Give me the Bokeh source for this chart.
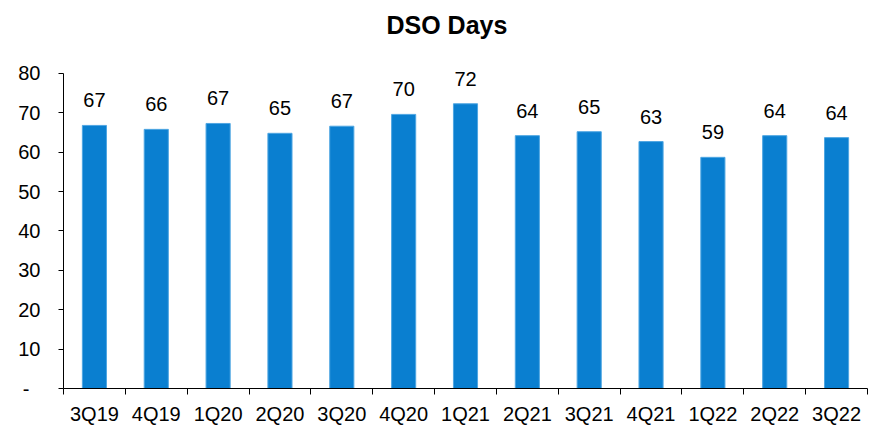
from bokeh.plotting import figure
from bokeh.models import ColumnDataSource, FixedTicker, Range1d, Label
from bokeh.core.properties import value
from bokeh.embed import file_html
from bokeh.resources import INLINE

quarters = ["3Q19", "4Q19", "1Q20", "2Q20", "3Q20", "4Q20", "1Q21",
            "2Q21", "3Q21", "4Q21", "1Q22", "2Q22", "3Q22"]
dso = [66.8, 65.8, 67.3, 64.8, 66.6, 69.6, 72.3, 64.2, 65.2, 62.7, 58.7, 64.2, 63.7]
labels = [f"{v:.0f}" for v in dso]
y_ticks = [0, 10, 20, 30, 40, 50, 60, 70, 80]
title_text = "DSO Days"

FONT = "Liberation Sans"
BAR = "#0A7FD0"

# layout (pixels)
W, H = 875, 427
TOP, BOTTOM = 5, 37
AXIS_TOP_PX = 73.3           # where the value 80 sits on the canvas
frame_h = H - TOP - BOTTOM
px_per_unit = (H - BOTTOM - AXIS_TOP_PX) / y_ticks[-1]
y_max = frame_h / px_per_unit

xs = [i + 0.5 for i in range(len(quarters))]
src = ColumnDataSource(dict(x=xs, top=dso, lab=labels))

p = figure(width=W, height=H, output_backend="svg", toolbar_location=None,
           x_range=Range1d(0, len(quarters)), y_range=Range1d(0, y_max),
           min_border_left=63, min_border_right=8, min_border_top=TOP,
           min_border_bottom=BOTTOM)
p.title.visible = False
p.outline_line_color = None
p.grid.visible = False
p.background_fill_color = "white"
p.border_fill_color = "white"

p.vbar(x="x", top="top", width=0.39, bottom=0, source=src,
       fill_color=BAR, line_color="#4FA6E2", line_width=1)
p.text(x="x", y="top", text="lab", source=src, text_align="center",
       text_baseline="bottom", y_offset=-18, text_font=value(FONT),
       text_font_size="20px", text_color="black")

# title as a label above the axis top
p.add_layout(Label(x=6.2, y=y_ticks[-1], x_units="data", y_units="data", text=title_text,
                   text_align="center", text_baseline="alphabetic", y_offset=48,
                   text_font=FONT, text_font_size="25px", text_font_style="bold",
                   text_color="black"))

# x axis
xa = p.xaxis[0]
xa.ticker = FixedTicker(ticks=xs, minor_ticks=list(range(len(quarters) + 1)))
xa.major_label_overrides = {x: q for x, q in zip(xs, quarters)}
xa.major_tick_out = 0
xa.major_tick_in = 0
xa.minor_tick_out = 6
xa.minor_tick_in = 0
xa.minor_tick_line_color = "black"
xa.axis_line_color = "black"
xa.major_label_text_font = FONT
xa.major_label_text_font_size = "20px"
xa.major_label_text_color = "black"
xa.major_label_standoff = 8

# y axis
ya = p.yaxis[0]
ya.ticker = FixedTicker(ticks=y_ticks, minor_ticks=[])
ya.bounds = (0, y_ticks[-1])
ya.major_label_overrides = {0: "-\u00a0\u00a0"}
ya.major_tick_out = 5
ya.major_tick_in = 0
ya.major_tick_line_color = "black"
ya.axis_line_color = "black"
ya.major_label_text_font = FONT
ya.major_label_text_font_size = "20px"
ya.major_label_text_color = "black"
ya.major_label_standoff = 18

open("out.html", "w").write(file_html(p, INLINE))
